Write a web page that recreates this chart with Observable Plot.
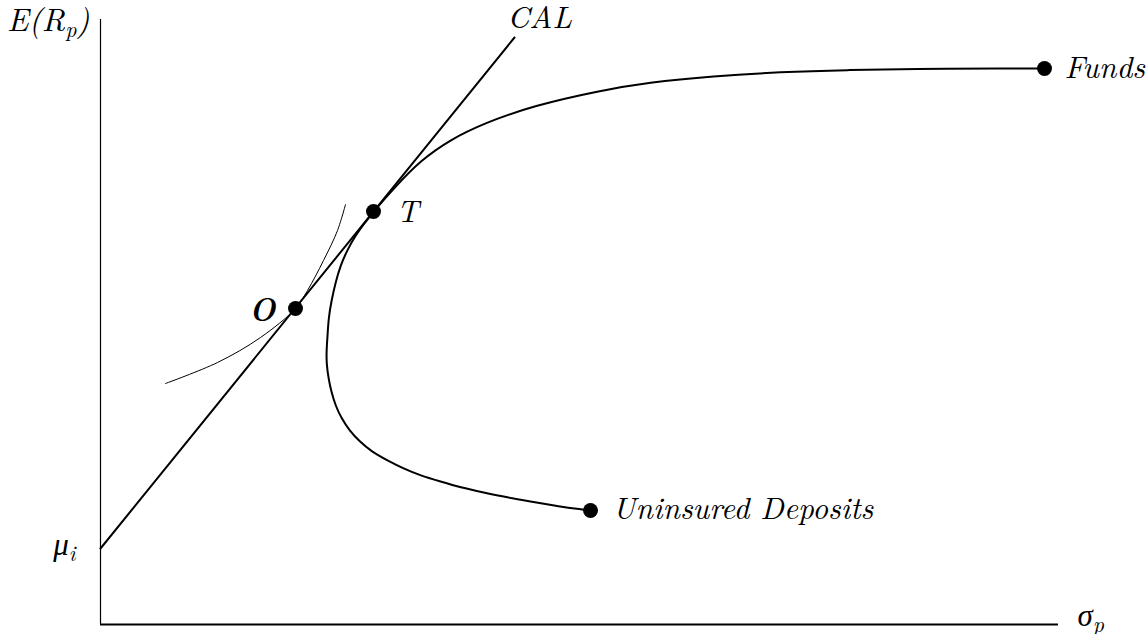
<!DOCTYPE html>
<html>
<head>
<meta charset="utf-8">
<script src="https://cdn.jsdelivr.net/npm/d3@7"></script>
<script src="https://cdn.jsdelivr.net/npm/@observablehq/plot@0.6"></script>
<style>
  html, body { margin: 0; padding: 0; background: #fff; }
  #chart svg { display: block; }
</style>
</head>
<body>
<div id="chart"></div>
<script>
// Efficient frontier (sigma_p, E(R_p)) from Uninsured Deposits, through T, to Funds
const frontierSigma  = [490, 472, 453, 430, 407, 383, 360, 340, 320, 303, 287, 271, 259, 249, 241, 235, 231, 228, 226, 226, 227, 228, 231, 235, 240, 247, 255, 263, 273, 295, 320, 350, 383, 433, 500, 547, 613, 680, 747, 813, 907, 944];
const frontierReturn = [114, 116, 119, 123, 127, 132, 137, 143, 149, 156, 164, 173, 183, 194, 206, 219, 232, 246, 261, 274, 288, 306, 324, 342, 359, 375, 389, 400, 413, 438, 464, 485, 501, 519, 534, 542, 548.5, 552.5, 554.5, 555.5, 556, 556];

// Capital allocation line starting at mu_i
const calSigma  = [0, 414];
const calReturn = [76, 587];

// Indifference curve tangent to the CAL at O
const indiffSigma  = [65, 117, 160, 195, 207, 223, 237, 245];
const indiffReturn = [241, 262, 287, 316, 334, 364, 394, 420];

// Marked portfolios
const pointNames  = ["O", "T", "Funds", "Uninsured Deposits"];
const pointSigma  = [195, 273, 944, 490];
const pointReturn = [316, 413, 556, 114];

// Axis labels
const yLabel = "E(R_p)";
const xLabel = "σ_p";
const muLabel = "μ_i";
const calLabel = "CAL";
const muValue = 76;
const xMax = 958, yMax = 605;

const frontier = frontierSigma.map((s, i) => ({s, r: frontierReturn[i]}));
const cal = calSigma.map((s, i) => ({s, r: calReturn[i]}));
const indiff = indiffSigma.map((s, i) => ({s, r: indiffReturn[i]}));
const points = pointNames.map((name, i) => ({name, s: pointSigma[i], r: pointReturn[i]}));
const byName = n => points.filter(p => p.name === n);

const font = "Latin Modern Roman";
const fs = 31;
const txt = (data, opts) => Plot.text(data, {fontFamily: font, fontSize: fs, fontStyle: "italic", fill: "black", ...opts});

const chart = Plot.plot({
  width: 1146,
  height: 634,
  marginLeft: 100,
  marginRight: 88,
  marginTop: 19,
  marginBottom: 10,
  style: {background: "white", overflow: "visible"},
  x: {domain: [0, xMax], axis: null},
  y: {domain: [0, yMax], axis: null},
  marks: [
    Plot.ruleX([0], {stroke: "black", strokeWidth: 1.2}),
    Plot.ruleY([0], {stroke: "black", strokeWidth: 2}),
    Plot.line(indiff, {x: "s", y: "r", curve: "catmull-rom", stroke: "black", strokeWidth: 1}),
    Plot.line(cal, {x: "s", y: "r", stroke: "black", strokeWidth: 2}),
    Plot.line(frontier, {x: "s", y: "r", curve: "basis", stroke: "black", strokeWidth: 2}),
    Plot.dot(points, {x: "s", y: "r", r: 7.5, fill: "black", stroke: "none"}),
    txt(byName("O"), {x: "s", y: "r", text: "name", textAnchor: "end", dx: -20, dy: 2, fontWeight: "bold"}),
    txt(byName("T"), {x: "s", y: "r", text: "name", textAnchor: "start", dx: 23, dy: 1}),
    txt(byName("Funds"), {x: "s", y: "r", text: "name", textAnchor: "start", dx: 20, dy: 0}),
    txt(byName("Uninsured Deposits"), {x: "s", y: "r", text: "name", textAnchor: "start", dx: 22, dy: -1}),
    txt([calLabel], {x: calSigma[1], y: calReturn[1], text: d => d, textAnchor: "middle", dx: 25, dy: -19}),
    txt([yLabel], {x: 0, y: yMax, text: d => d, textAnchor: "end", dx: -11, dy: 1, fontSize: 32}),
    txt([muLabel], {x: 0, y: muValue, text: d => d, textAnchor: "end", dx: -25, dy: -3}),
    txt([xLabel], {x: xMax, y: 0, text: d => d, textAnchor: "start", dx: 19, dy: -8})
  ]
});

// Turn "_x" into a real subscript tspan
d3.select(chart).selectAll("text").each(function() {
  const t = this.textContent;
  const m = /^(.*?)_(\w)(.*)$/.exec(t);
  if (!m) return;
  const el = d3.select(this);
  el.text("");
  el.append("tspan").text(m[1]);
  el.append("tspan").attr("dy", 6).attr("font-size", Math.round(fs * 0.7)).text(m[2]);
  if (m[3]) el.append("tspan").attr("dy", -6).text(m[3]);
});

document.getElementById("chart").append(chart);
</script>
</body>
</html>
